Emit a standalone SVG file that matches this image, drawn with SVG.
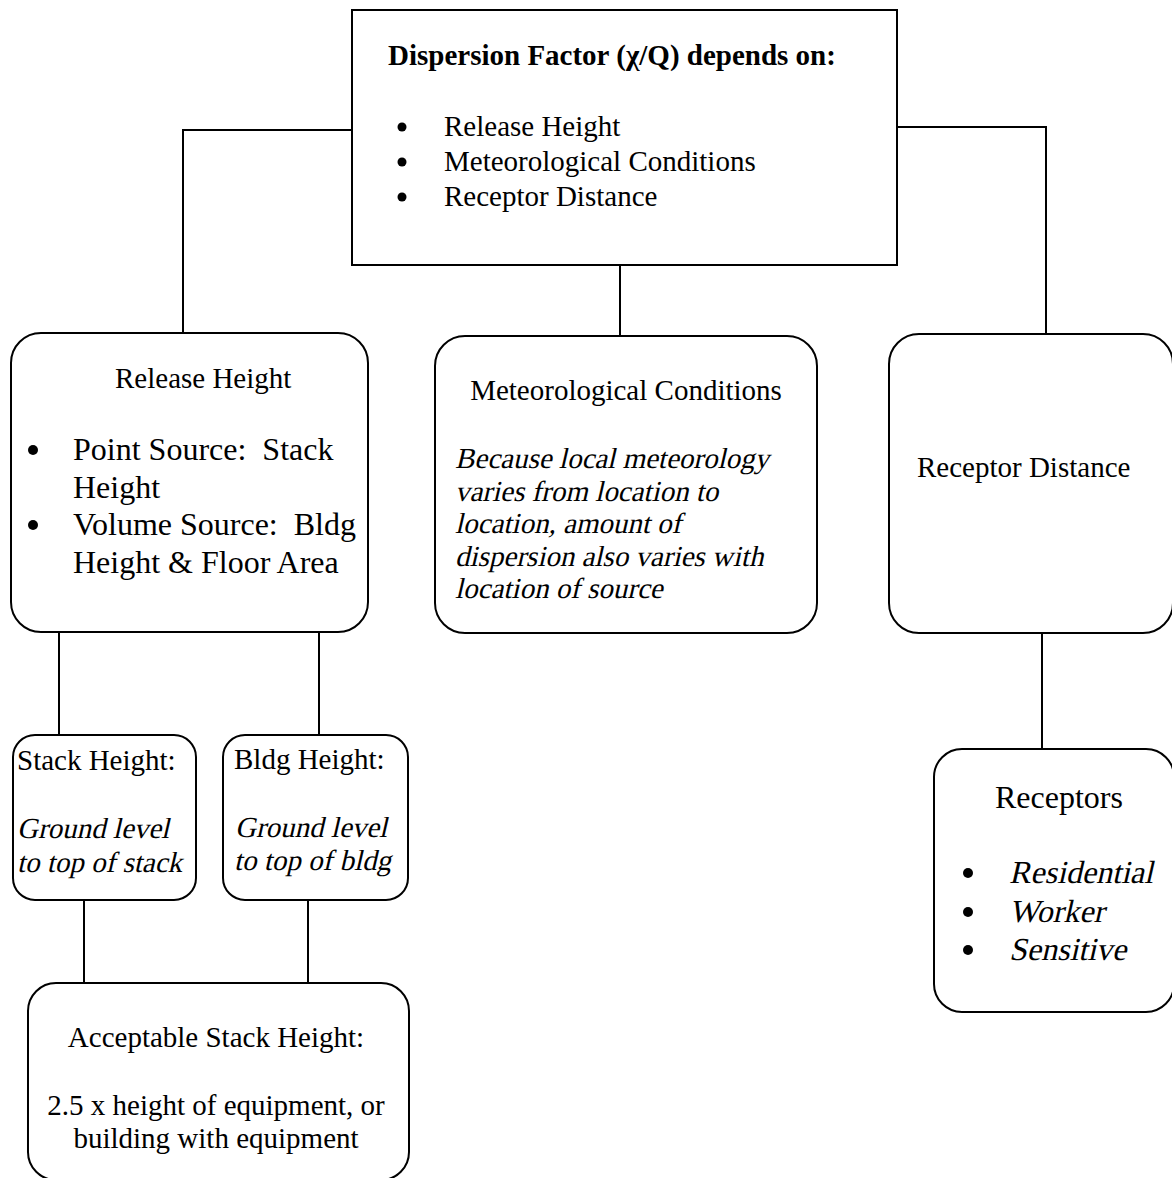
<svg xmlns="http://www.w3.org/2000/svg" width="1172" height="1178" viewBox="0 0 1172 1178">
<style>
.box{fill:#fff;stroke:#000;stroke-width:2}
.conn{fill:none;stroke:#000;stroke-width:2}
text{font-family:"Liberation Serif",serif;fill:#000;white-space:pre}
.t29{font-size:29px}
.t32{font-size:32px}
.b{font-weight:bold}
.m{text-anchor:middle}
.dot{fill:#000}
</style>
<rect width="1172" height="1178" fill="#fff"/>
<g id="connectors">
<polyline class="conn" points="352,130 183,130 183,333"/>
<line class="conn" x1="620" y1="265" x2="620" y2="336"/>
<polyline class="conn" points="897,127 1046,127 1046,334"/>
<line class="conn" x1="59" y1="630" x2="59" y2="735"/>
<line class="conn" x1="319" y1="630" x2="319" y2="735"/>
<line class="conn" x1="84" y1="900" x2="84" y2="983"/>
<line class="conn" x1="308" y1="900" x2="308" y2="986"/>
<line class="conn" x1="1042" y1="633" x2="1042" y2="750"/>
</g>
<g id="node-dispersion">
<rect class="box" x="352" y="10" width="545" height="255"/>
<text class="t29 b" x="388" y="65">Dispersion Factor (χ/Q) depends on:</text>
<circle class="dot" cx="402" cy="127" r="4.5"/>
<circle class="dot" cx="402" cy="162" r="4.5"/>
<circle class="dot" cx="402" cy="197" r="4.5"/>
<text class="t29" x="444" y="136">Release Height</text>
<text class="t29" x="444" y="171">Meteorological Conditions</text>
<text class="t29" x="444" y="206">Receptor Distance</text>
</g>
<g id="node-release">
<rect class="box" x="11" y="333" width="357" height="299" rx="30"/>
<text class="t29" x="115" y="388">Release Height</text>
<circle class="dot" cx="33" cy="450" r="5"/>
<circle class="dot" cx="33" cy="525" r="5"/>
<text class="t32" x="73" y="460" xml:space="preserve">Point Source:  Stack</text>
<text class="t32" x="73" y="497.5">Height</text>
<text class="t32" x="73" y="535" xml:space="preserve">Volume Source:  Bldg</text>
<text class="t32" x="73" y="572.5">Height &amp; Floor Area</text>
</g>
<g id="node-met">
<rect class="box" x="435" y="336" width="382" height="297" rx="30"/>
<text class="t29 m" x="626" y="400">Meteorological Conditions</text>
<text class="t29" transform="translate(455,468) skewX(-13)">Because local meteorology</text>
<text class="t29" transform="translate(455,500.5) skewX(-13)">varies from location to</text>
<text class="t29" transform="translate(455,533) skewX(-13)">location, amount of</text>
<text class="t29" transform="translate(455,565.5) skewX(-13)">dispersion also varies with</text>
<text class="t29" transform="translate(455,598) skewX(-13)">location of source</text>
</g>
<g id="node-receptor-distance">
<rect class="box" x="889" y="334" width="284" height="299" rx="30"/>
<text class="t29" x="917" y="477">Receptor Distance</text>
</g>
<g id="node-stack">
<rect class="box" x="13" y="735" width="183" height="165" rx="22"/>
<text class="t29" x="17" y="770">Stack Height:</text>
<text class="t29" transform="translate(17,838) skewX(-13)">Ground level</text>
<text class="t29" transform="translate(17,872) skewX(-13)">to top of stack</text>
</g>
<g id="node-bldg">
<rect class="box" x="223" y="735" width="185" height="165" rx="22"/>
<text class="t29" x="234" y="769">Bldg Height:</text>
<text class="t29" transform="translate(235,837) skewX(-13)">Ground level</text>
<text class="t29" transform="translate(234,870) skewX(-13)">to top of bldg</text>
</g>
<g id="node-acceptable">
<rect class="box" x="28" y="983" width="381" height="197" rx="28"/>
<text class="t29 m" x="216" y="1047">Acceptable Stack Height:</text>
<text class="t29 m" x="216" y="1115">2.5 x height of equipment, or</text>
<text class="t29 m" x="216" y="1148">building with equipment</text>
</g>
<g id="node-receptors">
<rect class="box" x="934" y="749" width="240" height="263" rx="28"/>
<text class="t32" x="995" y="808">Receptors</text>
<circle class="dot" cx="968" cy="873" r="5"/>
<circle class="dot" cx="968" cy="912" r="5"/>
<circle class="dot" cx="968" cy="950" r="5"/>
<text class="t32" transform="translate(1009,883) skewX(-13)">Residential</text>
<text class="t32" transform="translate(1009,922) skewX(-13)">Worker</text>
<text class="t32" transform="translate(1009,960) skewX(-13)">Sensitive</text>
</g>
</svg>
